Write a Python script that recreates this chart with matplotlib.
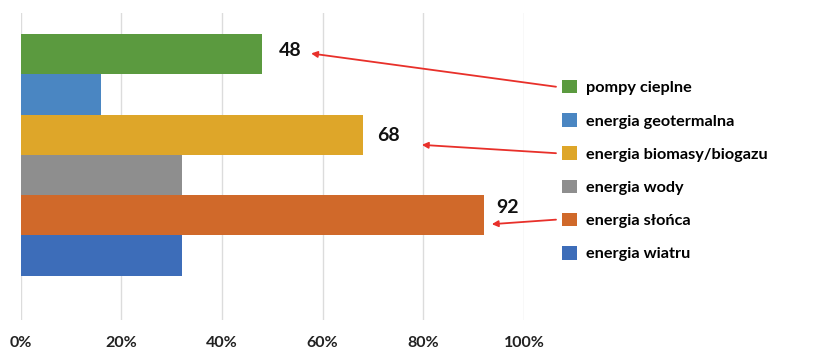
import matplotlib
matplotlib.use("Agg")
import matplotlib.pyplot as plt

plt.rcParams['font.family'] = ['Lato', 'DejaVu Sans']
plt.rcParams['font.weight'] = 'bold'

# series, top to bottom
series = ['pompy cieplne', 'energia geotermalna', 'energia biomasy/biogazu',
          'energia wody', 'energia słońca', 'energia wiatru']
values = [48, 16, 68, 32, 92, 32]
colors = ['#5b9a3f', '#4a86c2', '#dea629', '#8e8e8e', '#d0692a', '#3d6db9']
ticks = [0, 20, 40, 60, 80, 100]
tick_labels = ['0%', '20%', '40%', '60%', '80%', '100%']

# labelled bars and their arrows
labelled = [0, 2, 4]
label_dx = [5.5, 5.0, 4.8]
label_dy = [-0.1, 0.02, -0.2]
head_dx = [9.7, 11.7, 1.6]
head_dy = [-0.02, 0.25, 0.22]

W, H = 828, 349
fig = plt.figure(figsize=(W / 100, H / 100), dpi=100)
ax = fig.add_axes([20.7 / W, (H - 320) / H, (524 - 20.7) / W, (320 - 13) / H])

for i, (s, v, c) in enumerate(zip(series, values, colors)):
    ax.barh(i, v, height=1.0, color=c, label=s, zorder=3)

ax.set_xlim(0, 100)
ax.set_ylim(6.6, -1.025)
ax.set_xticks(ticks)
ax.set_xticklabels(tick_labels, fontsize=11.5, fontweight='bold', color='#222222')
ax.set_yticks([])
ax.tick_params(axis='x', length=0, pad=11.5)
ax.grid(axis='x', color='#dcdcdc', linewidth=1, zorder=0)
for sp in ax.spines.values():
    sp.set_visible(False)

leg = ax.legend(loc='upper left', bbox_to_anchor=(562 / W, 1 - 80 / H),
                bbox_transform=fig.transFigure, frameon=False,
                prop={'family': ['Lato', 'DejaVu Sans'], 'weight': 'bold', 'size': 11.7},
                handlelength=0.9, handleheight=0.9, handletextpad=0.55,
                labelspacing=1.1, borderpad=0, borderaxespad=0)

for k, i in enumerate(labelled):
    ax.text(values[i] + label_dx[k], i + label_dy[k], str(values[i]),
            ha='center', va='center', fontsize=14, fontweight='bold', color='#111111')

fig.canvas.draw()
for k, i in enumerate(labelled):
    bb = leg.legend_handles[i].get_window_extent()
    tail = (bb.x0 - 6, (bb.y0 + bb.y1) / 2)
    ax.annotate('', xy=(values[i] + head_dx[k], i + head_dy[k]), xycoords='data',
                xytext=tail, textcoords='figure pixels',
                arrowprops=dict(arrowstyle='-|>', color='#e8302a', lw=1.3,
                                mutation_scale=9, shrinkA=0, shrinkB=0))

fig.savefig('out.png', dpi=100)
